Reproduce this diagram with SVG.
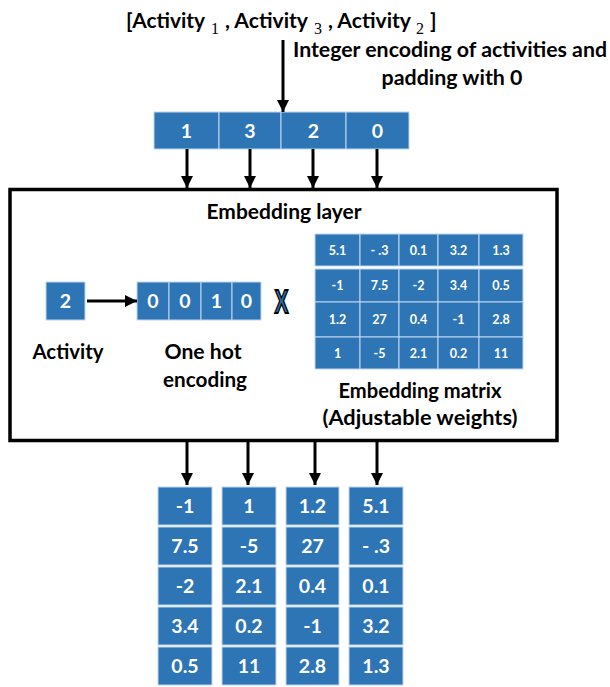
<svg xmlns="http://www.w3.org/2000/svg" width="610" height="687" viewBox="0 0 610 687">
<style>
.lbl{font-family:Lato,"Liberation Sans",sans-serif;font-weight:bold;font-size:21px;fill:#000;}
.sub{font-family:"Liberation Serif",serif;font-weight:normal;font-size:16px;fill:#000;}
.cell{fill:#2E75B6;stroke:#BDD7EE;stroke-width:1;}
.ct{font-family:Lato,"Liberation Sans",sans-serif;font-weight:bold;font-size:19.5px;fill:#fff;text-anchor:middle;}
.mt{font-family:Lato,"Liberation Sans",sans-serif;font-weight:bold;font-size:12.5px;fill:#fff;text-anchor:middle;}
.conn{stroke:#000;stroke-width:3;fill:none;marker-end:url(#ah);}
</style>
<defs>
<marker id="ah" markerWidth="12" markerHeight="12" refX="12" refY="6" orient="auto" markerUnits="userSpaceOnUse">
<path d="M0,0 L12,6 L0,12 z" fill="#000"/>
</marker>
</defs>
<rect width="610" height="687" fill="#fff"/>

<g id="input-sequence">
<text class="lbl" x="126" y="28" textLength="79" lengthAdjust="spacingAndGlyphs">[Activity</text>
<text class="sub" x="211" y="34">1</text>
<text class="lbl" x="225" y="28" textLength="83" lengthAdjust="spacingAndGlyphs">, Activity</text>
<text class="sub" x="314" y="34">3</text>
<text class="lbl" x="328" y="28" textLength="83" lengthAdjust="spacingAndGlyphs">, Activity</text>
<text class="sub" x="416" y="34">2</text>
<text class="lbl" x="430" y="28">]</text>
</g>

<g id="encoding-label">
<text class="lbl" x="293" y="57" textLength="314" lengthAdjust="spacingAndGlyphs">Integer encoding of activities and</text>
<text class="lbl" x="452" y="85" text-anchor="middle" textLength="141" lengthAdjust="spacingAndGlyphs">padding with 0</text>
</g>

<g id="integer-array">
<rect class="cell" x="154" y="112" width="65" height="37"/>
<rect class="cell" x="219" y="112" width="62" height="37"/>
<rect class="cell" x="281" y="112" width="65" height="37"/>
<rect class="cell" x="346" y="112" width="63" height="37"/>
<text class="ct" x="186.5" y="137.5">1</text>
<text class="ct" x="250" y="137.5">3</text>
<text class="ct" x="313.5" y="137.5">2</text>
<text class="ct" x="377.5" y="137.5">0</text>
</g>

<g id="embedding-layer">
<rect x="10" y="189.5" width="547" height="251" fill="none" stroke="#000" stroke-width="3.5"/>
<text class="lbl" x="284" y="219" text-anchor="middle" textLength="155" lengthAdjust="spacingAndGlyphs">Embedding layer</text>
</g>

<g id="activity">
<rect class="cell" x="46" y="282" width="39" height="38"/>
<text class="ct" x="65.5" y="308">2</text>
<text class="lbl" x="68" y="359" text-anchor="middle" textLength="71" lengthAdjust="spacingAndGlyphs">Activity</text>
</g>

<g id="one-hot">
<rect class="cell" x="137" y="282" width="32" height="38"/>
<rect class="cell" x="169" y="282" width="32" height="38"/>
<rect class="cell" x="201" y="282" width="31" height="38"/>
<rect class="cell" x="232" y="282" width="29" height="38"/>
<text class="ct" x="153" y="308">0</text>
<text class="ct" x="185" y="308">0</text>
<text class="ct" x="216.5" y="308">1</text>
<text class="ct" x="246.5" y="308">0</text>
<text class="lbl" x="203" y="359" text-anchor="middle" textLength="77" lengthAdjust="spacingAndGlyphs">One hot</text>
<text class="lbl" x="205" y="387" text-anchor="middle" textLength="84" lengthAdjust="spacingAndGlyphs">encoding</text>
</g>

<g id="multiply">
<text x="281.5" y="313" text-anchor="middle" font-family="Liberation Sans,sans-serif" font-weight="bold" font-size="33" fill="#2E75B6" stroke="#000" stroke-width="1.8" textLength="14" lengthAdjust="spacingAndGlyphs">X</text>
</g>

<g id="embedding-matrix">
<g>
<rect class="cell" x="315" y="234" width="45" height="32"/>
<rect class="cell" x="360" y="234" width="39" height="32"/>
<rect class="cell" x="399" y="234" width="39" height="32"/>
<rect class="cell" x="438" y="234" width="41" height="32"/>
<rect class="cell" x="479" y="234" width="44" height="32"/>
<rect class="cell" x="315" y="269" width="45" height="33"/>
<rect class="cell" x="360" y="269" width="39" height="33"/>
<rect class="cell" x="399" y="269" width="39" height="33"/>
<rect class="cell" x="438" y="269" width="41" height="33"/>
<rect class="cell" x="479" y="269" width="44" height="33"/>
<rect class="cell" x="315" y="302" width="45" height="35"/>
<rect class="cell" x="360" y="302" width="39" height="35"/>
<rect class="cell" x="399" y="302" width="39" height="35"/>
<rect class="cell" x="438" y="302" width="41" height="35"/>
<rect class="cell" x="479" y="302" width="44" height="35"/>
<rect class="cell" x="315" y="337" width="45" height="32"/>
<rect class="cell" x="360" y="337" width="39" height="32"/>
<rect class="cell" x="399" y="337" width="39" height="32"/>
<rect class="cell" x="438" y="337" width="41" height="32"/>
<rect class="cell" x="479" y="337" width="44" height="32"/>
</g>
<text class="mt" x="337.5" y="254.5">5.1</text>
<text class="mt" x="379.5" y="254.5">- .3</text>
<text class="mt" x="418.5" y="254.5">0.1</text>
<text class="mt" x="458.5" y="254.5">3.2</text>
<text class="mt" x="501" y="254.5">1.3</text>
<text class="mt" x="337.5" y="290">-1</text>
<text class="mt" x="379.5" y="290">7.5</text>
<text class="mt" x="418.5" y="290">-2</text>
<text class="mt" x="458.5" y="290">3.4</text>
<text class="mt" x="501" y="290">0.5</text>
<text class="mt" x="337.5" y="324">1.2</text>
<text class="mt" x="379.5" y="324">27</text>
<text class="mt" x="418.5" y="324">0.4</text>
<text class="mt" x="458.5" y="324">-1</text>
<text class="mt" x="501" y="324">2.8</text>
<text class="mt" x="337.5" y="357.5">1</text>
<text class="mt" x="379.5" y="357.5">-5</text>
<text class="mt" x="418.5" y="357.5">2.1</text>
<text class="mt" x="458.5" y="357.5">0.2</text>
<text class="mt" x="501" y="357.5">11</text>
<text class="lbl" x="420" y="398" text-anchor="middle" textLength="163" lengthAdjust="spacingAndGlyphs">Embedding matrix</text>
<text class="lbl" x="420" y="425" text-anchor="middle" textLength="195" lengthAdjust="spacingAndGlyphs">(Adjustable weights)</text>
</g>

<g id="output-vector-1">
<rect class="cell" x="158" y="487" width="54" height="38"/>
<rect class="cell" x="158" y="527" width="54" height="38"/>
<rect class="cell" x="158" y="567" width="54" height="38"/>
<rect class="cell" x="158" y="607" width="54" height="38"/>
<rect class="cell" x="158" y="647" width="54" height="38"/>
<text class="ct" x="185" y="513">-1</text>
<text class="ct" x="185" y="553">7.5</text>
<text class="ct" x="185" y="593">-2</text>
<text class="ct" x="185" y="633">3.4</text>
<text class="ct" x="185" y="673">0.5</text>
</g>
<g id="output-vector-2">
<rect class="cell" x="222" y="487" width="54" height="38"/>
<rect class="cell" x="222" y="527" width="54" height="38"/>
<rect class="cell" x="222" y="567" width="54" height="38"/>
<rect class="cell" x="222" y="607" width="54" height="38"/>
<rect class="cell" x="222" y="647" width="54" height="38"/>
<text class="ct" x="249" y="513">1</text>
<text class="ct" x="249" y="553">-5</text>
<text class="ct" x="249" y="593">2.1</text>
<text class="ct" x="249" y="633">0.2</text>
<text class="ct" x="249" y="673">11</text>
</g>
<g id="output-vector-3">
<rect class="cell" x="286" y="487" width="53" height="38"/>
<rect class="cell" x="286" y="527" width="53" height="38"/>
<rect class="cell" x="286" y="567" width="53" height="38"/>
<rect class="cell" x="286" y="607" width="53" height="38"/>
<rect class="cell" x="286" y="647" width="53" height="38"/>
<text class="ct" x="312.5" y="513">1.2</text>
<text class="ct" x="312.5" y="553">27</text>
<text class="ct" x="312.5" y="593">0.4</text>
<text class="ct" x="312.5" y="633">-1</text>
<text class="ct" x="312.5" y="673">2.8</text>
</g>
<g id="output-vector-4">
<rect class="cell" x="349" y="487" width="54" height="38"/>
<rect class="cell" x="349" y="527" width="54" height="38"/>
<rect class="cell" x="349" y="567" width="54" height="38"/>
<rect class="cell" x="349" y="607" width="54" height="38"/>
<rect class="cell" x="349" y="647" width="54" height="38"/>
<text class="ct" x="376" y="513">5.1</text>
<text class="ct" x="376" y="553">- .3</text>
<text class="ct" x="376" y="593">0.1</text>
<text class="ct" x="376" y="633">3.2</text>
<text class="ct" x="376" y="673">1.3</text>
</g>

<g id="connectors">
<line class="conn" x1="283" y1="40" x2="283" y2="112"/>
<line class="conn" x1="187" y1="149" x2="187" y2="188"/>
<line class="conn" x1="250" y1="149" x2="250" y2="188"/>
<line class="conn" x1="313" y1="149" x2="313" y2="188"/>
<line class="conn" x1="377" y1="149" x2="377" y2="188"/>
<line class="conn" x1="87" y1="301" x2="137" y2="301"/>
<line class="conn" x1="187" y1="442" x2="187" y2="485"/>
<line class="conn" x1="248" y1="442" x2="248" y2="485"/>
<line class="conn" x1="315" y1="442" x2="315" y2="485"/>
<line class="conn" x1="377" y1="442" x2="377" y2="485"/>
</g>
</svg>
